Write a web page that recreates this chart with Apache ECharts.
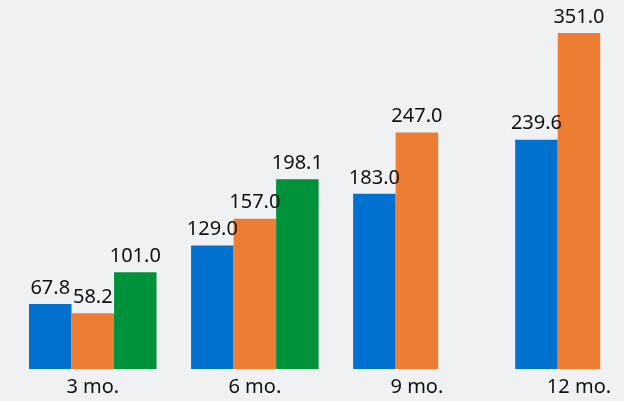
<!DOCTYPE html>
<html><head><meta charset="utf-8">
<script src="https://cdn.jsdelivr.net/npm/echarts@6/dist/echarts.min.js"></script>
<style>html,body{margin:0;padding:0;background:#f0f1f3;}#c{width:624px;height:401px;}</style>
</head><body><div id="c"></div>
<script>
const categories = ['3 mo.', '6 mo.', '9 mo.', '12 mo.'];
const seriesA = [67.8, 129.0, 183.0, 239.6];
const seriesB = [58.2, 157.0, 247.0, 351.0];
const seriesC = [101.0, 198.1, null, null];
const colors = ['#0071ce', '#ed7d33', '#00913b'];

const chart = echarts.init(document.getElementById('c'));
const font = '"Noto Sans", "Open Sans", sans-serif';
function mk(data, i) {
  return {
    type: 'bar', data: data, barGap: '0%', barCategoryGap: '21.3%',
    itemStyle: { color: colors[i] },
    label: { show: true, position: 'top', distance: 6, color: '#111', fontSize: 20, fontFamily: font,
      formatter: p => p.value == null ? '' : Number(p.value).toFixed(1) }
  };
}
chart.setOption({
  backgroundColor: '#f0f1f3',
  animation: false,
  grid: { left: 11.75, right: -36, top: 33, bottom: 32, containLabel: false, outerBoundsMode: 'none' },
  xAxis: { type: 'category', data: categories, axisLine: { show: false }, axisTick: { show: false },
    axisLabel: { color: '#111', fontSize: 20, fontFamily: font, margin: 8 } },
  yAxis: { type: 'value', min: 0, max: 351, show: false, splitLine: { show: false } },
  series: [mk(seriesA, 0), mk(seriesB, 1), mk(seriesC, 2)]
});
</script></body></html>
